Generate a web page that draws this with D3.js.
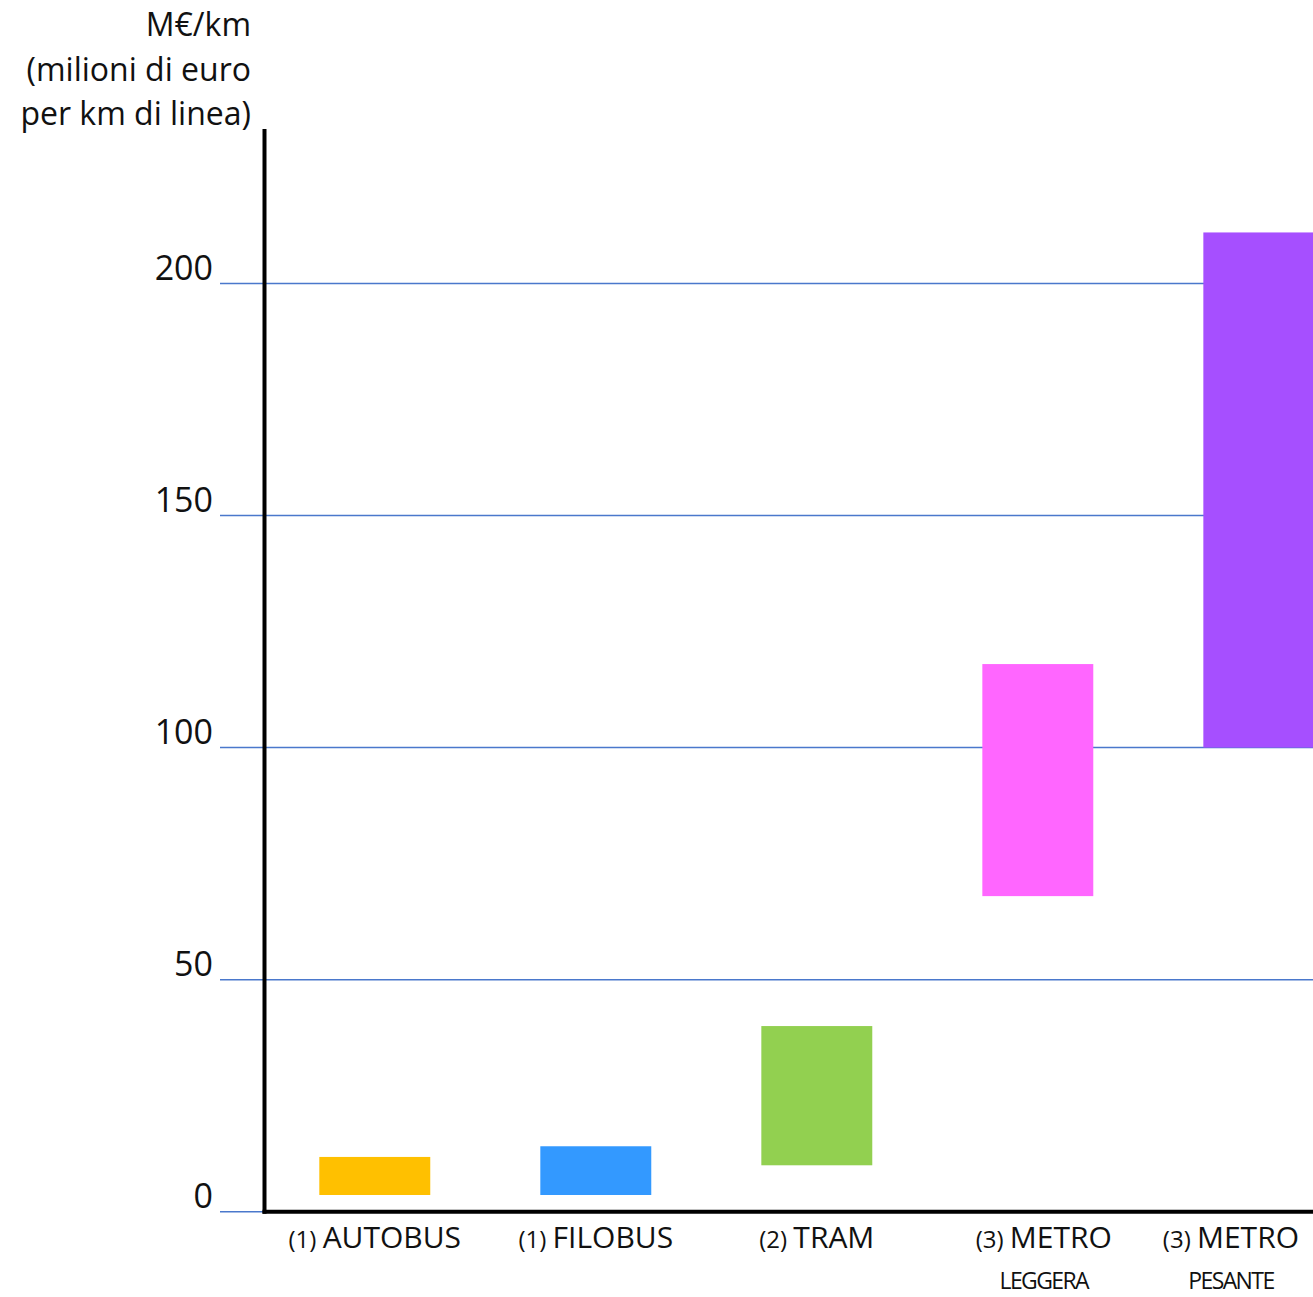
<!DOCTYPE html>
<html>
<head>
<meta charset="utf-8">
<script src="https://cdn.jsdelivr.net/npm/d3@7"></script>
<style>
  html, body { margin: 0; padding: 0; background: #fff; }
  svg { display: block; }
  text { font-family: "Open Sans", "Noto Sans", sans-serif; fill: #111; }
</style>
</head>
<body>
<svg id="chart" width="1313" height="1297"></svg>
<script>
// Costo di costruzione per km di linea: intervallo minimo–massimo per modo di trasporto
const categories = ["AUTOBUS", "FILOBUS", "TRAM", "METRO", "METRO"];
const prefixes   = ["(1)", "(1)", "(2)", "(3)", "(3)"];
const subLabels  = ["", "", "", "LEGGERA", "PESANTE"];
const minValues  = [3.6, 3.6, 10, 68, 100];
const maxValues  = [11.8, 14.1, 40, 118, 211];
const barColors  = ["#FFC000", "#3399FF", "#92D050", "#FF66FF", "#A64FFF"];
const tickValues = [0, 50, 100, 150, 200];
const titleLines = ["M€/km", "(milioni di euro", "per km di linea)"];

const W = 1313, H = 1297;
const axisX = 264.5, axisTop = 129, gridLeft = 220;

const svg = d3.select("#chart");

const y = d3.scaleLinear().domain([0, 200]).range([1211.7, 283.5]);

const keys = categories.map((c, i) => i);
const x = d3.scaleBand()
  .domain(keys)
  .range([axisX, axisX + 1104.6])
  .paddingInner(0.498)
  .paddingOuter(0.248);

// horizontal grid lines
svg.append("g")
  .selectAll("line")
  .data(tickValues)
  .join("line")
  .attr("x1", gridLeft)
  .attr("x2", W)
  .attr("y1", d => y(d))
  .attr("y2", d => y(d))
  .attr("stroke", "#4A78CC")
  .attr("stroke-width", 1.5);

// tick labels
svg.append("g")
  .selectAll("text")
  .data(tickValues)
  .join("text")
  .attr("x", 213)
  .attr("y", d => y(d) - 4)
  .attr("text-anchor", "end")
  .attr("font-size", 34)
  .text(d => d);

// floating range bars
svg.append("g")
  .selectAll("rect")
  .data(keys)
  .join("rect")
  .attr("x", i => x(i))
  .attr("width", x.bandwidth())
  .attr("y", i => y(maxValues[i]))
  .attr("height", i => y(minValues[i]) - y(maxValues[i]))
  .attr("fill", i => barColors[i]);

// axes lines
svg.append("line")
  .attr("x1", axisX).attr("x2", axisX)
  .attr("y1", axisTop).attr("y2", y(0) + 2)
  .attr("stroke", "#000").attr("stroke-width", 4);
svg.append("line")
  .attr("x1", axisX - 2).attr("x2", W)
  .attr("y1", y(0)).attr("y2", y(0))
  .attr("stroke", "#000").attr("stroke-width", 4);

// y axis title
svg.append("g")
  .selectAll("text")
  .data(titleLines)
  .join("text")
  .attr("x", 251)
  .attr("y", (d, i) => 36 + i * 44.5)
  .attr("text-anchor", "end")
  .attr("font-size", 32)
  .text(d => d);

// category labels
const labels = svg.append("g")
  .selectAll("g")
  .data(keys)
  .join("g");

const mainLabel = labels.append("text")
  .attr("y", 1248)
  .attr("text-anchor", "middle");
mainLabel.append("tspan").attr("font-size", 24).text(i => prefixes[i] + " ");
mainLabel.append("tspan").attr("font-size", 30).text(i => categories[i]);

const subLabel = labels.append("text")
  .attr("y", 1289)
  .attr("text-anchor", "middle")
  .attr("font-size", 23)
  .attr("letter-spacing", -1.6)
  .text(i => subLabels[i]);

// keep labels inside the drawing area
labels.each(function(i) {
  const g = d3.select(this);
  const m = g.select("text").node();
  const w = m.getComputedTextLength();
  const cx = Math.min(x(i) + x.bandwidth() / 2, W - 14 - w / 2);
  g.selectAll("text").attr("x", cx);
  if (i === 3) g.selectAll("text").attr("x", cx + 6);
});
</script>
</body>
</html>
